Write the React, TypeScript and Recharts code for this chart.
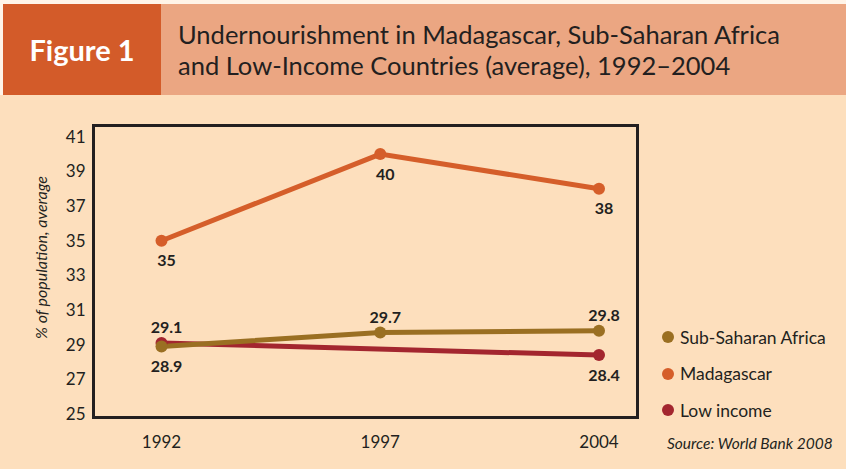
import { LineChart, Line, XAxis, YAxis, LabelList } from 'recharts';

const years = ['1992', '1997', '2004'];
const madagascar = [35, 40, 38];
const subSaharan = [28.9, 29.7, 29.8];
const lowIncome: (number | null)[] = [29.1, null, 28.4];
const yTicks = [25, 27, 29, 31, 33, 35, 37, 39, 41];

const data = years.map((year, i) => ({
  year,
  madagascar: madagascar[i],
  subSaharan: subSaharan[i],
  lowIncome: lowIncome[i],
}));

// where each series puts its value labels
const series = [
  { key: 'madagascar', name: 'Madagascar', color: '#D55E2A', sides: ['below', 'below', 'below'] },
  { key: 'lowIncome', name: 'Low income', color: '#A3262F', sides: ['above', 'above', 'below'] },
  { key: 'subSaharan', name: 'Sub-Saharan Africa', color: '#9A6F22', sides: ['below', 'above', 'above'] },
];
const legendOrder = ['subSaharan', 'madagascar', 'lowIncome'];

const FONT = 'Lato, "Open Sans", sans-serif';
const INK = '#231F20';

function makeLabel(sides: string[]) {
  return (props: any) => {
    const { x, y, value, index } = props;
    if (value == null) return null;
    const below = sides[index] === 'below';
    return (
      <text
        x={x + 5}
        y={below ? y + 19 : y - 16}
        textAnchor="middle"
        dominantBaseline="central"
        fill={INK}
        fontSize={16}
        fontWeight={700}
        fontFamily={FONT}
      >
        {value}
      </text>
    );
  };
}

export default function App() {
  return (
    <div style={{ position: 'fixed', left: 0, top: 0, width: 846, height: 469, background: '#FDDFBD', fontFamily: FONT, overflow: 'hidden' }}>
      <div style={{ position: 'absolute', left: 0, top: 0, width: 846, height: 4, background: '#FFF4E8' }} />
      <div style={{ position: 'absolute', left: 0, top: 0, width: 3, height: 95, background: '#FFF4E8' }} />
      <div style={{ position: 'absolute', left: 3, top: 4, width: 843, height: 91, background: '#EBA682' }} />
      <div style={{ position: 'absolute', left: 3, top: 4, width: 158, height: 91, background: '#D35B29', color: '#fff', fontWeight: 700, fontSize: 29, display: 'flex', alignItems: 'center', justifyContent: 'center' }}>
        Figure 1
      </div>
      <div style={{ position: 'absolute', left: 178, top: 19, color: INK, fontSize: 25.5, lineHeight: '31px' }}>
        Undernourishment in Madagascar, Sub-Saharan Africa
        <br />
        and Low-Income Countries (average), 1992–2004
      </div>

      <div style={{ position: 'absolute', left: 0, top: 95 }}>
        <LineChart width={846} height={374} data={data} margin={{ top: 30.5, right: 208.5, bottom: 21.5, left: 33.5 }}>
          <XAxis
            dataKey="year"
            padding={{ left: 68, right: 38.5 }}
            axisLine={{ stroke: INK, strokeWidth: 3 }}
            tickLine={false}
            tickMargin={12}
            height={30}
            tick={{ fill: INK, fontSize: 17, fontFamily: FONT }}
          />
          <YAxis
            domain={[24.8, 41.65]}
            ticks={yTicks}
            interval={0}
            width={60}
            axisLine={{ stroke: INK, strokeWidth: 3 }}
            tickLine={false}
            tick={{ fill: INK, fontSize: 17, fontFamily: FONT }}
            label={{
              value: '% of population, average',
              content: (p: any) => {
                const vb = p.viewBox;
                const cx = vb.x + 7;
                const cy = vb.y + vb.height / 2 - 14;
                return (
                  <text x={cx} y={cy} transform={`rotate(-90, ${cx}, ${cy})`} textAnchor="middle" dominantBaseline="central" fill={INK} fontSize={16} fontStyle="italic" fontFamily={FONT}>
                    % of population, average
                  </text>
                );
              },
            }}
          />
          {series.map((s) => (
            <Line
              key={s.key}
              dataKey={s.key}
              name={s.name}
              stroke={s.color}
              strokeWidth={5}
              dot={{ r: 6, fill: s.color, stroke: 'none' }}
              activeDot={false}
              connectNulls
              isAnimationActive={false}
            >
              <LabelList dataKey={s.key} content={makeLabel(s.sides)} />
            </Line>
          ))}
        </LineChart>
      </div>

      {/* frame round the plot area */}
      <div style={{ position: 'absolute', left: 92, top: 124, width: 541, height: 289, border: `3px solid ${INK}`, pointerEvents: 'none' }} />

      <div style={{ position: 'absolute', left: 662, top: 319 }}>
        {legendOrder.map((k) => {
          const s = series.find((x) => x.key === k)!;
          return (
            <div key={k} style={{ display: 'flex', alignItems: 'center', height: 36.5, color: INK, fontSize: 17.5 }}>
              <span style={{ width: 12, height: 12, borderRadius: 6, background: s.color, marginRight: 6 }} />
              {s.name}
            </div>
          );
        })}
      </div>
      <div style={{ position: 'absolute', left: 667, top: 434, color: INK, fontSize: 15.5, fontStyle: 'italic' }}>
        Source: World Bank 2008
      </div>
    </div>
  );
}
